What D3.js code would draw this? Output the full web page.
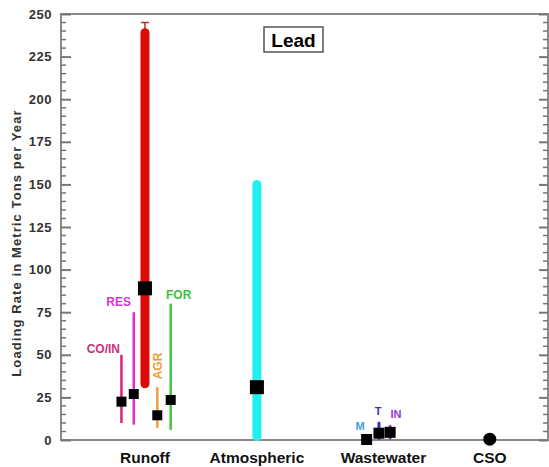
<!DOCTYPE html>
<html>
<head>
<meta charset="utf-8">
<script src="https://cdn.jsdelivr.net/npm/d3@7"></script>
<style>
  body { margin: 0; background: #fff; }
  text { font-family: Arial, "Liberation Sans", sans-serif; font-weight: bold; }
</style>
</head>
<body>
<div id="chart"></div>
<script>
// categories along the x axis (x in category units)
var categories = ["Runoff", "Atmospheric", "Wastewater", "CSO"];
var categoryX = [0.75, 1.75, 2.88, 3.83];

// runoff sub-sources (x in category units)
var runoffNames = ["CO/IN", "RES", "AGR", "FOR"];
var runoffX = [0.54, 0.65, 0.86, 0.98];
var runoffLow = [10, 9, 7, 6];
var runoffHigh = [50, 75, 31, 80];
var runoffMean = [22.5, 27, 14.5, 23.5];

// runoff total
var totalLow = 33, totalHigh = 239, totalMax = 245, totalMean = 89;

// atmospheric
var atmLow = 2, atmHigh = 150, atmMean = 31;

// wastewater sub-sources
var wasteNames = ["M", "T", "IN"];
var wasteX = [2.73, 2.84, 2.94];
var wasteLow = [0, 1, 1];
var wasteHigh = [0.5, 10, 8];
var wasteMean = [0.3, 4, 4.5];

// CSO
var csoMean = 0.5;

var yTicks = [0, 25, 50, 75, 100, 125, 150, 175, 200, 225, 250];

var W = 549, H = 467;
var padL = 61, padR = 548, padT = 14, padB = 440;

var svg = d3.select("#chart").append("svg")
  .attr("width", W)
  .attr("height", H);

var x = d3.scaleLinear().domain([0, 4.35]).range([padL, padR]);
var y = d3.scaleLinear().domain([0, 250]).range([padB, padT]);

// frame
svg.append("rect")
  .attr("x", padL).attr("y", padT)
  .attr("width", padR - padL).attr("height", padB - padT)
  .attr("fill", "none")
  .attr("stroke", "#8a8a8a")
  .attr("stroke-width", 2);

// left axis, major + minor ticks pointing inward
var minor = d3.range(0, 251, 5).filter(function(d) { return d % 25 !== 0; });
var leftAxis = d3.axisLeft(y).tickValues(yTicks).tickSize(-10).tickPadding(9);
var gl = svg.append("g").attr("transform", "translate(" + padL + ",0)").call(leftAxis);
gl.select(".domain").remove();
gl.selectAll(".tick line").attr("stroke", "#777").attr("stroke-width", 2);
gl.selectAll(".tick text")
  .attr("font-size", 13)
  .attr("letter-spacing", 0.5)
  .attr("fill", "#333")
  .attr("font-family", "Arial, 'Liberation Sans', sans-serif")
  .attr("font-weight", "bold");

svg.append("g").selectAll("line")
  .data(minor)
  .enter().append("line")
  .attr("x1", padL).attr("x2", padL + 5)
  .attr("y1", function(d) { return y(d); })
  .attr("y2", function(d) { return y(d); })
  .attr("stroke", "#777").attr("stroke-width", 1.5);

// right axis, ticks inward
var rightAxis = d3.axisRight(y).tickValues(yTicks).tickSize(-9).tickFormat("");
var gr = svg.append("g").attr("transform", "translate(" + padR + ",0)").call(rightAxis);
gr.select(".domain").remove();
gr.selectAll(".tick line").attr("stroke", "#777").attr("stroke-width", 2);

svg.append("g").selectAll("line")
  .data(minor)
  .enter().append("line")
  .attr("x1", padR).attr("x2", padR - 5)
  .attr("y1", function(d) { return y(d); })
  .attr("y2", function(d) { return y(d); })
  .attr("stroke", "#777").attr("stroke-width", 1.5);

// axis title
svg.append("text")
  .attr("transform", "translate(21,243) rotate(-90)")
  .attr("text-anchor", "middle")
  .attr("font-size", 13)
  .attr("letter-spacing", 1.1)
  .attr("fill", "#333")
  .text("Loading Rate in Metric Tons per Year");

// category labels
svg.append("g").selectAll("text")
  .data(categories)
  .enter().append("text")
  .attr("x", function(d, i) { return x(categoryX[i]); })
  .attr("y", 463)
  .attr("text-anchor", "middle")
  .attr("font-size", 15.5)
  .attr("fill", "#111")
  .text(function(d) { return d; });

// title box
svg.append("rect")
  .attr("x", 264).attr("y", 27).attr("width", 59).attr("height", 25)
  .attr("fill", "#fff").attr("stroke", "#555").attr("stroke-width", 1.5);
svg.append("text")
  .attr("x", 293.5).attr("y", 47)
  .attr("text-anchor", "middle")
  .attr("font-size", 19)
  .attr("fill", "#000")
  .text("Lead");

function square(cx, cy, s) {
  svg.append("rect")
    .attr("x", cx - s / 2).attr("y", cy - s / 2)
    .attr("width", s).attr("height", s)
    .attr("fill", "#000");
}

// runoff total (red)
var xr = x(categoryX[0]);
svg.append("line")
  .attr("x1", xr).attr("x2", xr)
  .attr("y1", y(totalHigh)).attr("y2", y(totalMax))
  .attr("stroke", "#c03020").attr("stroke-width", 1.5);
svg.append("line")
  .attr("x1", xr - 4).attr("x2", xr + 4)
  .attr("y1", y(totalMax)).attr("y2", y(totalMax))
  .attr("stroke", "#c03020").attr("stroke-width", 1.5);
svg.append("line")
  .attr("x1", xr).attr("x2", xr)
  .attr("y1", y(totalLow)).attr("y2", y(totalHigh))
  .attr("stroke", "#dd0a0a").attr("stroke-width", 9)
  .attr("stroke-linecap", "round");
square(xr, y(totalMean), 14);

// runoff sub-sources
var runoffColors = ["#d8207e", "#e02ad8", "#eaa340", "#3ec63e"];
runoffNames.forEach(function(n, i) {
  var cx = x(runoffX[i]);
  svg.append("line")
    .attr("x1", cx).attr("x2", cx)
    .attr("y1", y(runoffLow[i])).attr("y2", y(runoffHigh[i]))
    .attr("stroke", runoffColors[i]).attr("stroke-width", 2.5);
  square(cx, y(runoffMean[i]), 10);
});

// runoff labels
var labelColors = ["#c8307f", "#d535d0", "#e8a040", "#3cc23c"];
svg.append("text").attr("x", 120).attr("y", 353).attr("text-anchor", "end")
  .attr("font-size", 12).attr("fill", labelColors[0]).text(runoffNames[0]);
svg.append("text").attr("x", 131).attr("y", 306).attr("text-anchor", "end")
  .attr("font-size", 12).attr("fill", labelColors[1]).text(runoffNames[1]);
svg.append("text").attr("transform", "translate(162,366) rotate(-90)").attr("text-anchor", "middle")
  .attr("font-size", 12).attr("fill", labelColors[2]).text(runoffNames[2]);
svg.append("text").attr("x", 166).attr("y", 299).attr("text-anchor", "start")
  .attr("font-size", 12).attr("fill", labelColors[3]).text(runoffNames[3]);

// atmospheric (cyan)
var xa = x(categoryX[1]);
svg.append("line")
  .attr("x1", xa).attr("x2", xa)
  .attr("y1", y(atmLow)).attr("y2", y(atmHigh))
  .attr("stroke", "#22f0f0").attr("stroke-width", 9)
  .attr("stroke-linecap", "round");
square(xa, y(atmMean), 14);

// wastewater
var wasteColors = ["#3b9ede", "#3232c0", "#9a36d0"];
wasteNames.forEach(function(n, i) {
  var cx = x(wasteX[i]);
  svg.append("line")
    .attr("x1", cx).attr("x2", cx)
    .attr("y1", y(wasteLow[i])).attr("y2", y(wasteHigh[i]))
    .attr("stroke", wasteColors[i]).attr("stroke-width", 3)
    .attr("stroke-linecap", "round");
  square(cx, y(wasteMean[i]), 11);
});
svg.append("text").attr("x", 360).attr("y", 430).attr("text-anchor", "middle")
  .attr("font-size", 11).attr("fill", wasteColors[0]).text(wasteNames[0]);
svg.append("text").attr("x", 378).attr("y", 415).attr("text-anchor", "middle")
  .attr("font-size", 11).attr("fill", wasteColors[1]).text(wasteNames[1]);
svg.append("text").attr("x", 396).attr("y", 418).attr("text-anchor", "middle")
  .attr("font-size", 11).attr("fill", wasteColors[2]).text(wasteNames[2]);

// CSO
svg.append("circle")
  .attr("cx", x(categoryX[3])).attr("cy", y(csoMean))
  .attr("r", 6.5)
  .attr("fill", "#000");
</script>
</body>
</html>
